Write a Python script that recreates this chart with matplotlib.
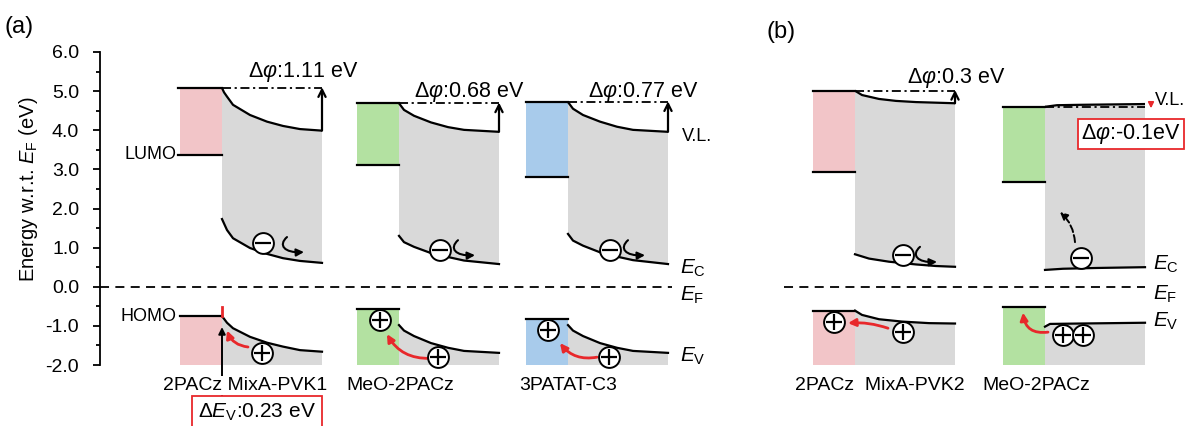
import numpy as np
import matplotlib
matplotlib.use("Agg")
import matplotlib.pyplot as plt
from matplotlib.patches import Rectangle, FancyArrowPatch
from matplotlib.path import Path
from matplotlib.ticker import MultipleLocator, FormatStrFormatter

plt.rcParams['font.family'] = ['Liberation Sans', 'DejaVu Sans']
plt.rcParams['mathtext.fontset'] = 'custom'
plt.rcParams['mathtext.rm'] = 'Liberation Sans'
plt.rcParams['mathtext.it'] = 'Liberation Sans:italic'
plt.rcParams['mathtext.bf'] = 'Liberation Sans:bold'

# ---------------- data (energies in eV w.r.t. E_F) ----------------
bottom_labels = ["2PACz MixA-PVK1", "MeO-2PACz", "3PATAT-C3", "2PACz  MixA-PVK2", "MeO-2PACz"]
htl_top = [5.08, 4.69, 4.72, 5.01, 4.59]
htl_lumo = [3.37, 3.11, 2.81, 2.93, 2.68]
htl_homo = [-0.75, -0.57, -0.83, -0.61, -0.51]
dphi_labels = ["1.11 eV", "0.68 eV", "0.77 eV", "0.3 eV", "-0.1eV"]

vl_frac = [
    [0, .02, .05, .11, .28, .45, .61, .78, 1],
    [0, .05, .15, .32, .49, .65, 1],
    [0, .05, .15, .32, .49, .65, 1],
    [0, .07, .24, .41, .61, 1],
    [0, .12, .35, 1],
]
vl_val = [
    [5.08, 4.97, 4.86, 4.65, 4.39, 4.22, 4.11, 4.03, 3.99],
    [4.69, 4.52, 4.37, 4.20, 4.08, 4.01, 3.96],
    [4.72, 4.55, 4.39, 4.22, 4.09, 4.01, 3.96],
    [5.01, 4.90, 4.80, 4.75, 4.72, 4.69],
    [4.60, 4.64, 4.65, 4.67],
]
ec_frac = [
    [0, .05, .11, .28, .45, .61, .78, 1],
    [0, .05, .15, .32, .49, .65, 1],
    [0, .05, .15, .32, .49, .65, 1],
    [0, .14, .34, .61, .81, 1],
    [0, .18, .52, 1],
]
ec_val = [
    [1.73, 1.45, 1.24, 0.99, 0.84, 0.73, 0.66, 0.61],
    [1.30, 1.14, 1.02, 0.86, 0.76, 0.67, 0.58],
    [1.35, 1.18, 1.05, 0.88, 0.77, 0.68, 0.58],
    [0.83, 0.72, 0.64, 0.57, 0.53, 0.51],
    [0.43, 0.46, 0.48, 0.50],
]
ev_frac = [
    [0, .05, .11, .28, .45, .61, .78, 1],
    [0, .05, .15, .32, .49, .65, 1],
    [0, .05, .15, .32, .49, .65, 1],
    [0, .07, .24, .47, .74, 1],
    [0, .05, .35, 1],
]
ev_val = [
    [-0.75, -0.92, -1.06, -1.28, -1.43, -1.53, -1.62, -1.66],
    [-0.98, -1.12, -1.26, -1.44, -1.56, -1.64, -1.69],
    [-0.98, -1.12, -1.26, -1.44, -1.56, -1.64, -1.69],
    [-0.61, -0.72, -0.83, -0.89, -0.93, -0.94],
    [-1.02, -0.95, -0.94, -0.92],
]
dEv_value = 0.23

# ---------------- layout / style ----------------
htl_x = [180, 357, 526, 813, 1003]
htl_w = 42
pvk_w = 100
label_x = [245, 400, 568, 880, 1036]
htl_colors = ['#f2c5c8', '#b3e1a1', '#a8cbeb', '#f2c5c8', '#b3e1a1']
gray = '#d9d9d9'
red = '#e8282b'
fs = 14
EV_PX = 39.1  # pixels per eV on the axis (used only for annotation glyph shapes)

fig = plt.figure(figsize=(11.87, 4.26), dpi=100)
ax = fig.add_axes([100 / 1187, (426 - 365) / 426, (1187 - 100) / 1187, (365 - 52) / 426])
ax.set_xlim(100, 1187)
ax.set_ylim(-2, 6)
for s in ['top', 'right', 'bottom']:
    ax.spines[s].set_visible(False)
ax.spines['left'].set_linewidth(1.3)
ax.set_xticks([])
ax.yaxis.set_major_locator(MultipleLocator(1.0))
ax.yaxis.set_minor_locator(MultipleLocator(0.5))
ax.yaxis.set_major_formatter(FormatStrFormatter('%.1f'))
ax.tick_params(axis='y', which='major', direction='out', length=5, width=1.3, labelsize=fs, pad=10)
ax.tick_params(axis='y', which='minor', direction='out', length=3, width=1.3)
ax.set_ylabel(r"Energy w.r.t. $E_\mathrm{F}$ (eV)", fontsize=14.5)
ax.yaxis.set_label_coords(-0.055, 0.56)

lw = 1.6
for i in range(5):
    x0 = htl_x[i]
    x1 = x0 + htl_w
    x2 = x1 + pvk_w
    ax.add_patch(Rectangle((x0, htl_lumo[i]), htl_w, htl_top[i] - htl_lumo[i],
                           facecolor=htl_colors[i], edgecolor='none', clip_on=False))
    ax.add_patch(Rectangle((x0, -2), htl_w, htl_homo[i] + 2,
                           facecolor=htl_colors[i], edgecolor='none', clip_on=False))
    xv = [x1 + f * pvk_w for f in vl_frac[i]]
    xc = [x1 + f * pvk_w for f in ec_frac[i]]
    xe = [x1 + f * pvk_w for f in ev_frac[i]]
    ax.fill(xv + xc[::-1], vl_val[i] + ec_val[i][::-1], color=gray, lw=0, clip_on=False)
    ax.fill(xe + [x2, x1], ev_val[i] + [-2, -2], color=gray, lw=0, clip_on=False)
    ax.plot(xv, vl_val[i], color='black', lw=lw, clip_on=False, solid_capstyle='butt')
    ax.plot(xc, ec_val[i], color='black', lw=lw, clip_on=False)
    ax.plot(xe, ev_val[i], color='black', lw=lw, clip_on=False)
    ext = 2 if i == 0 else 0
    ax.plot([x0 - ext, x1], [htl_top[i]] * 2, color='black', lw=lw, clip_on=False)
    ax.plot([x0 - ext, x1], [htl_lumo[i]] * 2, color='black', lw=lw, clip_on=False)
    ax.plot([x0, x1], [htl_homo[i]] * 2, color='black', lw=lw, clip_on=False)
    ax.plot([x1, x2], [htl_top[i]] * 2, color='black', lw=1.3, dashes=[5, 2, 1.2, 2], clip_on=False)
    if i < 4:
        ax.add_patch(FancyArrowPatch((x2, vl_val[i][-1]), (x2, htl_top[i] + 0.02),
                                     arrowstyle='->', mutation_scale=13, lw=lw,
                                     color='black', clip_on=False, shrinkA=0, shrinkB=0))
    ax.text(label_x[i], -2.52, bottom_labels[i], ha='center', va='center', fontsize=fs,
            clip_on=False, zorder=5,
            bbox=dict(boxstyle='square,pad=0.05', fc='white', ec='none') if i == 0 else None)

# Delta phi labels
dphi_pos = [(248, 5.49), (414, 4.97), (588, 4.97), (907, 5.33)]
for (x, y), lab in zip(dphi_pos, dphi_labels[:4]):
    ax.text(x, y, r"$\mathit{\Delta\varphi}$:" + lab, ha='left', va='center', fontsize=15.5, clip_on=False)
ax.text(1081, 3.9, r"$\mathit{\Delta\varphi}$:" + dphi_labels[4], ha='left', va='center', fontsize=15.5,
        clip_on=False, bbox=dict(boxstyle='square,pad=0.15', fc='white', ec=red, lw=1.3))
ax.add_patch(FancyArrowPatch((1151, 4.70), (1151, 4.56), arrowstyle='-|>', mutation_scale=8,
                             lw=1.3, color=red, clip_on=False, shrinkA=0, shrinkB=0))

# E_F dashed lines
ax.plot([100, 672], [0, 0], color='black', lw=1.3, dashes=[5, 3.5], clip_on=False)
ax.plot([784, 1145], [0, 0], color='black', lw=1.3, dashes=[5, 3.5], clip_on=False)

# level labels
for x, yc, yf, yv, yvl in [(680, 0.47, -0.22, -1.78, 3.83), (1153, 0.57, -0.2, -0.88, 4.77)]:
    ax.text(x, yc, r"$E_\mathrm{C}$", fontsize=fs + 1, va='center', ha='left', clip_on=False)
    ax.text(x, yf, r"$E_\mathrm{F}$", fontsize=fs + 1, va='center', ha='left', clip_on=False)
    ax.text(x, yv, r"$E_\mathrm{V}$", fontsize=fs + 1, va='center', ha='left', clip_on=False)
    ax.text(x + 2, yvl, "V.L.", fontsize=fs - 1, va='center', ha='left', clip_on=False)
ax.text(176, htl_lumo[0], "LUMO", fontsize=fs - 1, ha='right', va='center', clip_on=False)
ax.text(176, htl_homo[0], "HOMO", fontsize=fs - 1, ha='right', va='center', clip_on=False)

# Delta E_V indicator
ax.plot([222, 222], [htl_homo[0], htl_homo[0] + dEv_value], color=red, lw=2, clip_on=False)
ax.add_patch(FancyArrowPatch((222, -2.86), (222, -1.03), arrowstyle='-|>', mutation_scale=10,
                             lw=1.4, color='black', clip_on=False, shrinkA=0, shrinkB=0, zorder=4))
ax.text(257, -3.22, r"$\Delta E_\mathrm{V}$:%.2f eV" % dEv_value, ha='center', va='center',
        fontsize=15, clip_on=False, zorder=6,
        bbox=dict(boxstyle='square,pad=0.3', fc='white', ec=red, lw=1.3))

# charges
electrons = [(263, 1.12), (440, 0.94), (610, 0.94), (903, 0.81), (1081, 0.73)]
holes = [(262, -1.70), (380, -0.85), (438, -1.80), (548, -1.10), (609, -1.80),
         (834, -0.90), (903, -1.16), (1063, -1.23), (1083, -1.23)]
for pts, m in [(electrons, '_'), (holes, '+')]:
    xs = [p[0] for p in pts]
    ys = [p[1] for p in pts]
    ax.scatter(xs, ys, s=225, facecolor='white', edgecolor='black', linewidth=1.4, zorder=7, clip_on=False)
    ax.scatter(xs, ys, s=120, marker=m, color='black', linewidth=1.6, zorder=8, clip_on=False)

# curly (reflection) arrows for electrons: "(" shape ending with arrow to the right
def curl(x, y):
    pts = [(x, y), (x - 9, y - 8 / EV_PX), (x - 3, y - 16 / EV_PX), (x + 17, y - 15 / EV_PX)]
    p = Path(pts, [Path.MOVETO, Path.CURVE4, Path.CURVE4, Path.CURVE4])
    ax.add_patch(FancyArrowPatch(path=p, arrowstyle='-|>', mutation_scale=11, lw=1.5,
                                 color='black', clip_on=False, zorder=6))

for x, y in [(287, 1.27), (458, 1.19), (628, 1.19), (920, 1.02)]:
    curl(x, y)

# red hole-transfer arrows
for a, b, r in [((248, -1.54), (227, -1.12), -0.3), ((430, -1.83), (387, -1.21), -0.3),
                ((597, -1.80), (560, -1.44), -0.3), ((888, -1.06), (848, -0.93), 0.1),
                ((1048, -1.16), (1023, -0.66), -0.5)]:
    ax.add_patch(FancyArrowPatch(a, b, connectionstyle='arc3,rad=%f' % r, arrowstyle='-|>',
                                 mutation_scale=11, lw=2, color=red, clip_on=False,
                                 shrinkA=0, shrinkB=0, zorder=6))

# dashed escape arrow (b)
ax.add_patch(FancyArrowPatch((1075, 1.14), (1060, 1.91), connectionstyle='arc3,rad=0.2',
                             arrowstyle='-|>', mutation_scale=11, lw=1.4, color='black',
                             linestyle='--', clip_on=False, shrinkA=0, shrinkB=0, zorder=6))

fig.text(5 / 1187, 1 - 27 / 426, "(a)", fontsize=17, va='center', ha='left')
fig.text(766 / 1187, 1 - 32 / 426, "(b)", fontsize=17, va='center', ha='left')

fig.savefig("out.png", dpi=100)
